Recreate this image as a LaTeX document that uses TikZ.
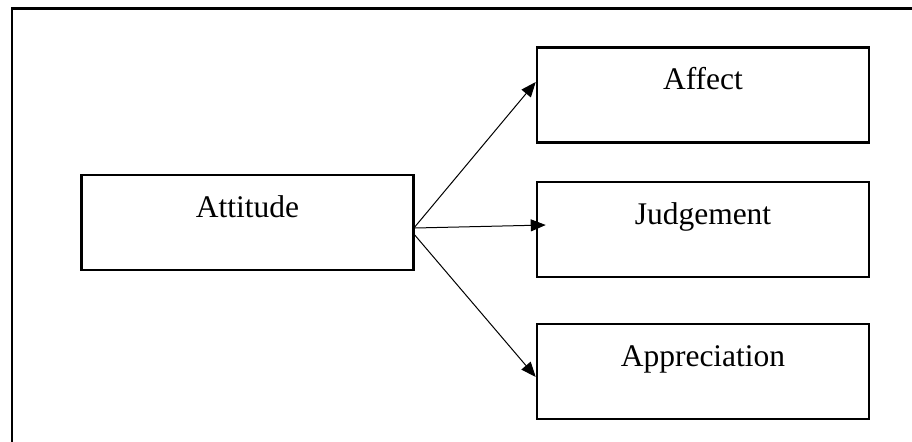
\documentclass[tikz,border=0pt]{standalone}
\usepackage{fontspec}
\setmainfont{Liberation Serif}
\usetikzlibrary{arrows.meta}

\begin{document}
\begin{tikzpicture}[x=0.5pt,y=-0.5pt,
	box/.style={rectangle,draw,line width=1.25pt,minimum width=166pt,inner ysep=0pt,text height=21pt,text depth=26.5pt,font=\fontsize{15.75pt}{19pt}\selectfont},
	arr/.style={-{Triangle[length=7.5pt,width=6pt]},line width=0.5pt}]
\clip (0,0) rectangle (912,441);
\draw[line width=1.25pt] (12,450) |- (920,8.5);
\node[box] at (247.5,222.5) (att) {Attitude};
\foreach \n/\y/\t in {aff/95/Affect,jud/229.5/Judgement,app/371.5/Appreciation}
{
	\node[box] at (703,\y) (\n) {\t};
}
\draw[arr] ([yshift=-2.25pt]att.east) -- ([yshift=6.5pt]aff.west);
\draw[arr] ([yshift=-2.75pt]att.east) -- ([xshift=5pt,yshift=2.25pt]jud.west);
\draw[arr] ([yshift=-6.25pt]att.east) -- ([yshift=-2.75pt]app.west);
\end{tikzpicture}
\end{document}
